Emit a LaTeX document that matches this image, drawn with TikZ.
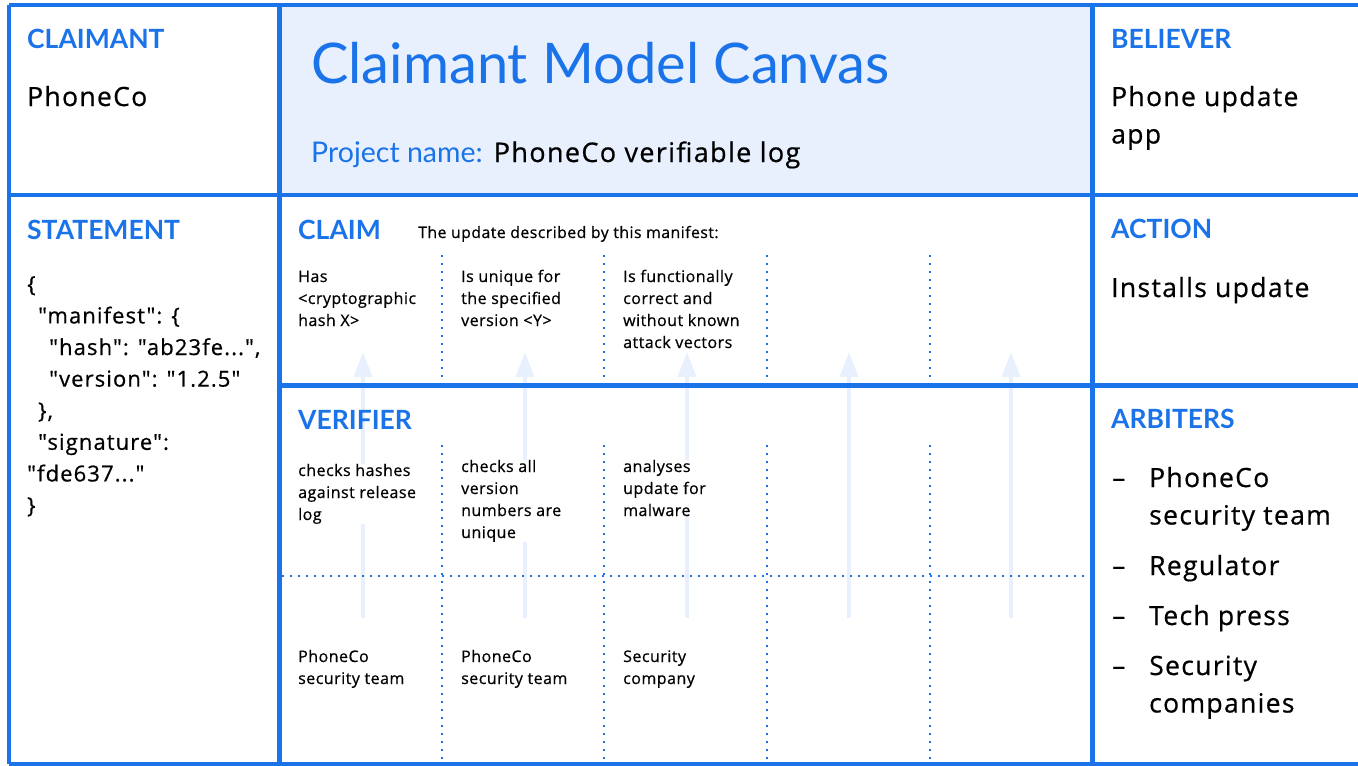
\documentclass[tikz,border=0pt]{standalone}
\usepackage{fontspec}
\setmainfont[LetterSpace=5,FakeBold=0.6]{Open Sans}
\newfontfamily\smallfont[LetterSpace=3,FakeBold=0.6]{Open Sans}
\newfontfamily\jfont[Ligatures=TeXOff,LetterSpace=5,FakeBold=0.6]{Open Sans}
\newfontfamily\hfont{Lato}
\usetikzlibrary{arrows.meta}
\definecolor{gblue}{HTML}{1A73E8}
\definecolor{lblue}{HTML}{E8F0FE}
\begin{document}
\begin{tikzpicture}[x=1pt,y=-1pt,
  gridline/.style={draw=gblue,line width=4.5pt},
  dotline/.style={draw=gblue,line width=2pt,dash pattern=on 2pt off 6pt},
  upflow/.style={draw=lblue,line width=4pt,-{Triangle[width=18pt,length=25pt]},fill=lblue},
  head/.style={anchor=base west,inner sep=0pt,text=gblue,font=\hfont\bfseries\fontsize{26.5}{30}\selectfont},
  big/.style={anchor=base west,inner sep=0pt,align=left,font=\fontsize{26.5}{37.5}\selectfont},
  small/.style={anchor=base west,inner sep=0pt,align=left,fill=white,font=\smallfont\fontsize{16}{22}\selectfont},
  json/.style={anchor=base west,inner sep=0pt,align=left,font=\jfont\fontsize{22}{31.6}\selectfont}]
\useasboundingbox (0,0) rectangle (1358,766);
% title cell fill
\fill[lblue] (279.5,5) rectangle (1092.5,195);
% arrows (background)
\foreach \x/\n in {363/a1,525/a2,687/a3,849/a4,1011/a5}{
  \coordinate (\n s) at (\x,618);
  \coordinate (\n t) at (\x,352);
  \draw[upflow] (\n s) -- (\n t);
}
% dotted separators
\foreach \x in {442,604,767,930}{
  \draw[dotline] (\x,255) -- (\x,383);
  \draw[dotline] (\x,445) -- (\x,764);
}
\draw[dotline] (282,576) -- (1092,576);
% main grid
\draw[gridline] (9,5) -- (1362,5);
\draw[gridline] (9,764) -- (1362,764);
\draw[gridline] (9,5) -- (9,764);
\draw[gridline] (279.5,5) -- (279.5,764);
\draw[gridline] (1092.5,5) -- (1092.5,764);
\draw[gridline] (9,195) -- (1362,195);
\draw[gridline] (279.5,385.5) -- (1362,385.5);
% top row
\node[head] (claimant) at (27,48) {CLAIMANT};
\node[big] (claimantv) at (27,106) {PhoneCo};
\node[anchor=base west,inner sep=0pt,text=gblue,font=\hfont\fontsize{56}{60}\selectfont] (title) at (311,83) {Claimant Model Canvas};
\node[anchor=base west,inner sep=0pt,font=\fontsize{27}{30}\selectfont] (project) at (311,162) {{\hfont\fontsize{28.5}{30}\selectfont\color{gblue}Project name:} PhoneCo verifiable log};
\node[head] (believer) at (1111,48) {BELIEVER};
\node[big] (believerv) at (1111,143.5) {Phone update\\app};
% middle row
\node[head] (statement) at (27,239) {STATEMENT};
\node[json] (stmt) at (27,513) {\{\\
\hspace*{11pt}"manifest": \{\\
\hspace*{22pt}"hash": "ab23fe...",\\
\hspace*{22pt}"version": "1.2.5"\\
\hspace*{11pt}\},\\
\hspace*{11pt}"signature":\\
"fde637..."\\
\}};
\node[head] (claim) at (298,239) {CLAIM};
\node[anchor=base west,inner sep=0pt,font=\smallfont\fontsize{15.8}{18}\selectfont] (claimintro) at (418,238) {The update described by this manifest:};
\node[small] (c1) at (298,326) {Has\\<cryptographic\\hash X>};
\node[small] (c2) at (461,326) {Is unique for\\the specified\\version <Y>};
\node[small] (c3) at (623,348) {Is functionally\\correct and\\without known\\attack vectors};
\node[head] (action) at (1111,238) {ACTION};
\node[big] (actionv) at (1111,297) {Installs update};
% bottom row
\node[head] (verifier) at (298,429) {VERIFIER};
\node[small] (v1) at (298,520) {checks hashes\\against release\\log};
\node[small] (v2) at (461,538) {checks all\\version\\numbers are\\unique};
\node[small] (v3) at (623,516) {analyses\\update for\\malware};
\node[small] (w1) at (298,684) {PhoneCo\\security team};
\node[small] (w2) at (461,684) {PhoneCo\\security team};
\node[small] (w3) at (623,684) {Security\\company};
\node[head] (arbiters) at (1111,428) {ARBITERS};
\node[big] (r1d) at (1112,487) {–};
\node[big] (r1) at (1149,524.5) {PhoneCo\\security team};
\node[big] (r2d) at (1112,575) {–};
\node[big] (r2) at (1149,575) {Regulator};
\node[big] (r3d) at (1112,625) {–};
\node[big] (r3) at (1149,625) {Tech press};
\node[big] (r4d) at (1112,675) {–};
\node[big] (r4) at (1149,712.5) {Security\\companies};
\end{tikzpicture}
\end{document}
